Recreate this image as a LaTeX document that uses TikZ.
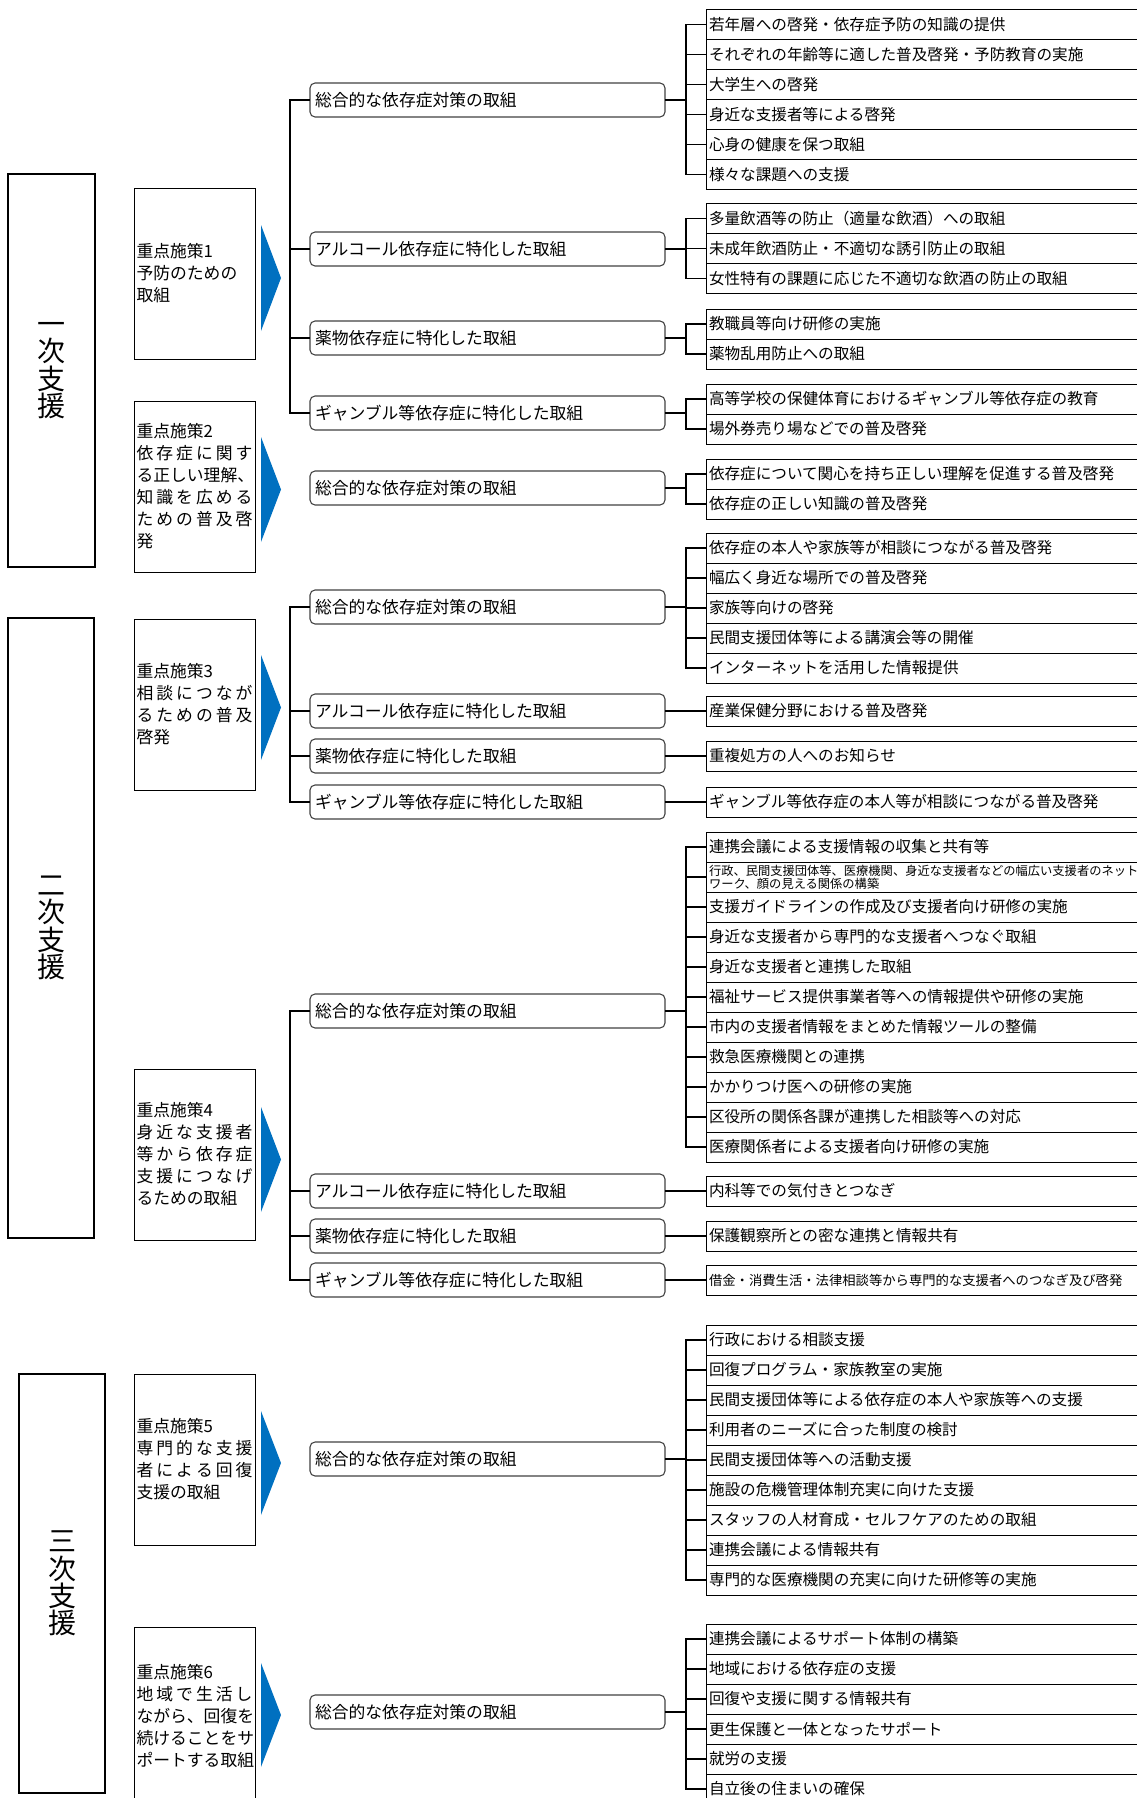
\documentclass[tikz,border=0pt]{standalone}
\usepackage{fontspec}
\setmainfont{Noto Sans CJK JP}
\definecolor{arrblue}{RGB}{0,112,192}
\def\spreadrest#1{\ifx#1\relax\else\hfill#1\expandafter\spreadrest\fi}
\def\spreadfirst#1{#1\spreadrest}
\newcommand\spreadline[1]{\makebox[87pt][l]{\spreadfirst#1\relax}}
\tikzset{
  every node/.style={inner sep=0pt, outer sep=0pt},
  conn/.style={draw=black, line width=0.9pt},
  item/.style={draw=black, line width=0.75pt, anchor=north west, minimum height=22.5pt,
    text width=325.5pt, inner xsep=2.25pt, align=left, font=\fontsize{11.7pt}{14pt}\selectfont},
  mid/.style={draw=black!75, line width=0.8pt, rounded corners=3.75pt, anchor=west,
    minimum height=25.5pt, text width=258.75pt, inner xsep=3.75pt, align=left,
    font=\fontsize{12.6pt}{15pt}\selectfont},
  policy/.style={draw=black, line width=0.7pt, anchor=north west, minimum height=128.25pt,
    text width=87pt, inner xsep=1.875pt, align=left, font=\fontsize{12.6pt}{16.5pt}\selectfont},
  tier/.style={draw=black, line width=0.8pt, align=center, font=\fontsize{21pt}{20.6pt}\selectfont},
  tri/.style={fill=arrblue},
}
\newcommand\itemgroup[4]{%
  \foreach \t [count=\k] in {#4} {
    \node[item] (#1\k) at (706,{#3+30*(\k-1)}) {\t};
    \draw[conn] (#2.east -| rs) |- (#1\k.west);
  }
  \draw[conn] (#2.east) -- (#2.east -| rs);
}
\begin{document}
\begin{tikzpicture}[x=0.75pt,y=-0.75pt]
\useasboundingbox (0,0) rectangle (1137,1798);
\clip (0,0) rectangle (1137,1798);
\coordinate (ls) at (290,0);
\coordinate (rs) at (686,0);

% tiers
\node[tier, minimum width=65.25pt, minimum height=294.75pt] (t1) at (51.5,370.5) {一\\次\\支\\援};
\node[tier, minimum width=64.5pt, minimum height=465pt] (t2) at (51,928) {二\\次\\支\\援};
\node[tier, minimum width=64.5pt, minimum height=314.25pt] (t3) at (62,1583.5) {三\\次\\支\\援};

% policies
\node[policy] (s1) at (134,188) {重点施策1\\予防のための\\取組};
\node[policy] (s2) at (134,401) {重点施策2\\\spreadline{依存症に関す}\\る正しい理解、\\\spreadline{知識を広める}\\\spreadline{ための普及啓}\\発};
\node[policy] (s3) at (134,619) {重点施策3\\\spreadline{相談につなが}\\\spreadline{るための普及}\\啓発};
\node[policy] (s4) at (134,1069) {重点施策4\\\spreadline{身近な支援者}\\\spreadline{等から依存症}\\\spreadline{支援につなげ}\\るための取組};
\node[policy] (s5) at (134,1374) {重点施策5\\\spreadline{専門的な支援}\\\spreadline{者による回復}\\支援の取組};
\node[policy, minimum height=133.5pt] (s6) at (134,1627) {重点施策6\\\spreadline{地域で生活し}\\ながら、回復を\\続けることをサ\\ポートする取組};

% arrows
\fill[tri] (261,225) -- (281,278) -- (261,331) -- cycle;
\fill[tri] (261,437) -- (281,489.5) -- (261,542) -- cycle;
\fill[tri] (261,655) -- (281,707.5) -- (261,760) -- cycle;
\fill[tri] (261,1107) -- (281,1159.5) -- (261,1212) -- cycle;
\fill[tri] (261,1411) -- (281,1463) -- (261,1515) -- cycle;
\fill[tri] (261,1663) -- (281,1715) -- (261,1767) -- cycle;

% middle boxes
\node[mid] (g1a) at (310,100) {総合的な依存症対策の取組};
\node[mid] (g1b) at (310,249) {アルコール依存症に特化した取組};
\node[mid] (g1c) at (310,338) {薬物依存症に特化した取組};
\node[mid] (g1d) at (310,413) {ギャンブル等依存症に特化した取組};
\node[mid] (g2a) at (310,488) {総合的な依存症対策の取組};
\node[mid] (g3a) at (310,607) {総合的な依存症対策の取組};
\node[mid] (g3b) at (310,711) {アルコール依存症に特化した取組};
\node[mid] (g3c) at (310,756) {薬物依存症に特化した取組};
\node[mid] (g3d) at (310,802) {ギャンブル等依存症に特化した取組};
\node[mid] (g4a) at (310,1011) {総合的な依存症対策の取組};
\node[mid] (g4b) at (310,1191) {アルコール依存症に特化した取組};
\node[mid] (g4c) at (310,1236) {薬物依存症に特化した取組};
\node[mid] (g4d) at (310,1280) {ギャンブル等依存症に特化した取組};
\node[mid] (g5a) at (310,1459) {総合的な依存症対策の取組};
\node[mid] (g6a) at (310,1712) {総合的な依存症対策の取組};

% left trees
\foreach \g in {1,3,4}{
  \draw[conn] (g\g a.west) -- (g\g a.west -| ls) |- (g\g d.west);
  \draw[conn] (g\g a.west -| ls) |- (g\g b.west);
  \draw[conn] (g\g a.west -| ls) |- (g\g c.west);
}

% items
\itemgroup{a}{g1a}{9.5}{若年層への啓発・依存症予防の知識の提供,それぞれの年齢等に適した普及啓発・予防教育の実施,大学生への啓発,身近な支援者等による啓発,心身の健康を保つ取組,様々な課題への支援}
\itemgroup{b}{g1b}{203.5}{多量飲酒等の防止（適量な飲酒）への取組,未成年飲酒防止・不適切な誘引防止の取組,女性特有の課題に応じた不適切な飲酒の防止の取組}
\itemgroup{c}{g1c}{309}{教職員等向け研修の実施,薬物乱用防止への取組}
\itemgroup{d}{g1d}{384}{高等学校の保健体育におけるギャンブル等依存症の教育,場外券売り場などでの普及啓発}
\itemgroup{e}{g2a}{459}{依存症について関心を持ち正しい理解を促進する普及啓発,依存症の正しい知識の普及啓発}
\itemgroup{f}{g3a}{533}{依存症の本人や家族等が相談につながる普及啓発,幅広く身近な場所での普及啓発,家族等向けの啓発,民間支援団体等による講演会等の開催,インターネットを活用した情報提供}

\node[item] (h1) at (706,696) {産業保健分野における普及啓発};
\draw[conn] (g3b.east) -- (g3b.east -| h1.west);
\node[item] (j1) at (706,741) {重複処方の人へのお知らせ};
\draw[conn] (g3c.east) -- (g3c.east -| j1.west);
\node[item] (k1) at (706,787) {ギャンブル等依存症の本人等が相談につながる普及啓発};
\draw[conn] (g3d.east) -- (g3d.east -| k1.west);

% group 4 comprehensive
\node[item] (m1) at (706,832) {連携会議による支援情報の収集と共有等};
\node[item, font=\fontsize{9.2pt}{9.9pt}\selectfont] (m2) at (706,862) {行政、民間支援団体等、医療機関、身近な支援者などの幅広い支援者のネット\\ワーク、顔の見える関係の構築};
\node[item] (m3) at (706,892) {支援ガイドラインの作成及び支援者向け研修の実施};
\node[item] (m4) at (706,922) {身近な支援者から専門的な支援者へつなぐ取組};
\node[item] (m5) at (706,952) {身近な支援者と連携した取組};
\node[item] (m6) at (706,982) {福祉サービス提供事業者等への情報提供や研修の実施};
\node[item] (m7) at (706,1012) {市内の支援者情報をまとめた情報ツールの整備};
\node[item] (m8) at (706,1042) {救急医療機関との連携};
\node[item] (m9) at (706,1072) {かかりつけ医への研修の実施};
\node[item] (m10) at (706,1102) {区役所の関係各課が連携した相談等への対応};
\node[item] (m11) at (706,1132) {医療関係者による支援者向け研修の実施};
\draw[conn] (g4a.east) -- (g4a.east -| rs);
\foreach \k in {1,...,11}{\draw[conn] (g4a.east -| rs) |- (m\k.west);}

\node[item] (n1) at (706,1176) {内科等での気付きとつなぎ};
\draw[conn] (g4b.east) -- (g4b.east -| n1.west);
\node[item] (o1) at (706,1221) {保護観察所との密な連携と情報共有};
\draw[conn] (g4c.east) -- (g4c.east -| o1.west);
\node[item, font=\fontsize{10pt}{12pt}\selectfont] (q1) at (706,1265) {借金・消費生活・法律相談等から専門的な支援者へのつなぎ及び啓発};
\draw[conn] (g4d.east) -- (g4d.east -| q1.west);

\itemgroup{r}{g5a}{1325}{行政における相談支援,回復プログラム・家族教室の実施,民間支援団体等による依存症の本人や家族等への支援,利用者のニーズに合った制度の検討,民間支援団体等への活動支援,施設の危機管理体制充実に向けた支援,スタッフの人材育成・セルフケアのための取組,連携会議による情報共有,専門的な医療機関の充実に向けた研修等の実施}
\itemgroup{u}{g6a}{1624}{連携会議によるサポート体制の構築,地域における依存症の支援,回復や支援に関する情報共有,更生保護と一体となったサポート,就労の支援,自立後の住まいの確保}
\end{tikzpicture}
\end{document}
